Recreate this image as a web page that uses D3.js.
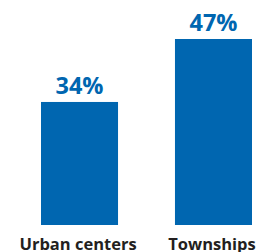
<!DOCTYPE html>
<html>
<head>
<meta charset="utf-8">
<script src="https://cdn.jsdelivr.net/npm/d3@7"></script>
<style>
  body { margin: 0; background: #fff; }
  svg { display: block; }
</style>
</head>
<body>
<div id="chart"></div>
<script>
// data
const categories = ['Urban centers', 'Townships'];
const values = [34, 47];
const valueLabels = ['34%', '47%'];

const width = 269, height = 252;
const blue = '#0066b0';

const svg = d3.select('#chart').append('svg')
    .attr('width', width)
    .attr('height', height);

// bars sit on a baseline at y=225
const x = d3.scaleBand()
    .domain(categories)
    .range([41, 252])
    .paddingInner(0.425)
    .paddingOuter(0);

const y = d3.scaleLinear()
    .domain([8.6, 47])
    .range([225, 39]);

const rows = categories.map((c, i) => ({ cat: c, v: values[i], label: valueLabels[i] }));

svg.selectAll('rect.bar')
    .data(rows)
    .enter().append('rect')
    .attr('class', 'bar')
    .attr('x', d => x(d.cat))
    .attr('y', d => y(d.v))
    .attr('width', x.bandwidth())
    .attr('height', d => y.range()[0] - y(d.v))
    .attr('fill', blue);

// value labels above bars
svg.selectAll('text.val')
    .data(rows)
    .enter().append('text')
    .attr('class', 'val')
    .attr('x', d => x(d.cat) + x.bandwidth() / 2)
    .attr('y', d => y(d.v) - 8)
    .attr('text-anchor', 'middle')
    .attr('font-family', '"Open Sans", sans-serif')
    .attr('font-weight', 'bold')
    .attr('font-size', 23.5)
    .attr('fill', blue)
    .text(d => d.label);

// category labels
svg.selectAll('text.cat')
    .data(rows)
    .enter().append('text')
    .attr('class', 'cat')
    .attr('x', d => x(d.cat) + x.bandwidth() / 2 - 1.5)
    .attr('y', 249.5)
    .attr('text-anchor', 'middle')
    .attr('font-family', '"Open Sans", sans-serif')
    .attr('font-weight', 'bold')
    .attr('font-size', 16.5)
    .attr('fill', '#231f20')
    .text(d => d.cat);
</script>
</body>
</html>
